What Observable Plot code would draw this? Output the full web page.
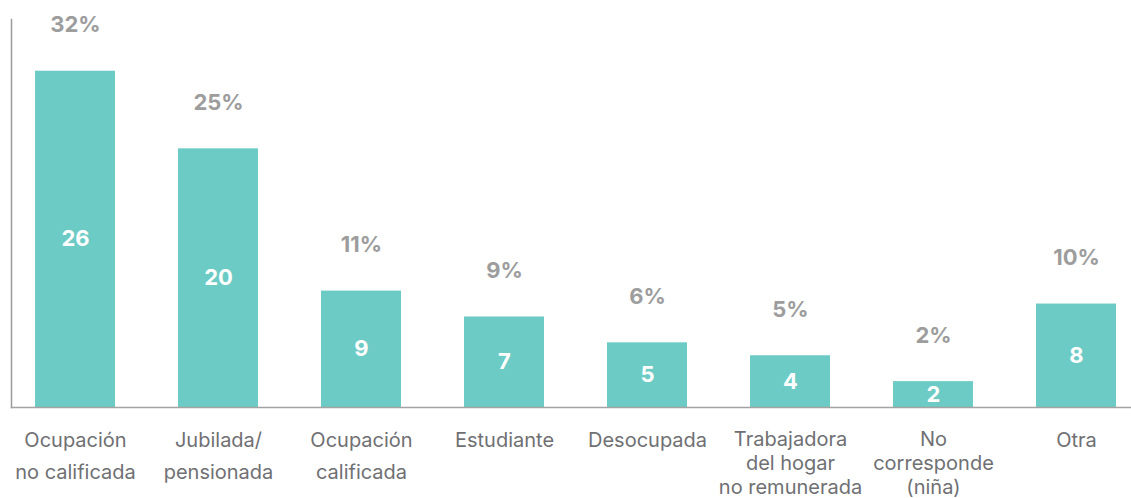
<!DOCTYPE html>
<html>
<head>
<meta charset="utf-8">
<script src="https://cdn.jsdelivr.net/npm/d3@7"></script>
<script src="https://cdn.jsdelivr.net/npm/@observablehq/plot@0.6"></script>
<style>
  html, body { margin: 0; padding: 0; background: #fff; }
  #chart svg { display: block; }
</style>
</head>
<body>
<div id="chart"></div>
<script>
const categories = [
  "Ocupación\nno calificada",
  "Jubilada/\npensionada",
  "Ocupación\ncalificada",
  "Estudiante",
  "Desocupada",
  "Trabajadora\ndel hogar\nno remunerada",
  "No\ncorresponde\n(niña)",
  "Otra"
];
const values = [26, 20, 9, 7, 5, 4, 2, 8];
const percents = ["32%", "25%", "11%", "9%", "6%", "5%", "2%", "10%"];

const data = categories.map((c, i) => ({
  cat: c,
  value: values[i],
  pct: percents[i],
  lines: c.split("\n").length
}));

const font = "Inter, 'Open Sans', sans-serif";

const chart = Plot.plot({
  width: 1131,
  height: 498,
  marginLeft: 11,
  marginRight: 0,
  marginTop: 19,
  marginBottom: 91,
  style: { fontFamily: font, background: "#fff" },
  x: { domain: categories, range: [10.5, 1140.5], paddingInner: 0.441, paddingOuter: 0.168, axis: null },
  y: { domain: [0, 30], axis: null },
  marks: [
    Plot.barY(data, { x: "cat", y: "value", fill: "#6ccbc5" }),
    Plot.frame({ anchor: "left", stroke: "#9b9b9b", strokeWidth: 1.5 }),
    Plot.frame({ anchor: "bottom", stroke: "#a3a3a3", strokeWidth: 1.5 }),
    Plot.text(data, {
      x: "cat", y: (d) => d.value / 2, text: (d) => String(d.value),
      fill: "#fff", fontSize: 22, fontWeight: 700
    }),
    Plot.text(data, {
      x: "cat", y: "value", text: "pct", dy: -46,
      fill: "#9d9d9d", fontSize: 22, fontWeight: 700
    }),
    Plot.text(data.filter((d) => d.lines <= 2), {
      x: "cat", y: 0, text: "cat", lineAnchor: "top", dy: 17,
      lineHeight: 1.58, fill: "#6f7073", fontSize: 20, fontWeight: 400
    }),
    Plot.text(data.filter((d) => d.lines > 2), {
      x: "cat", y: 0, text: "cat", lineAnchor: "top", dy: 21,
      lineHeight: 1.2, fill: "#6f7073", fontSize: 20, fontWeight: 400
    })
  ]
});

document.getElementById("chart").appendChild(chart);
</script>
</body>
</html>
